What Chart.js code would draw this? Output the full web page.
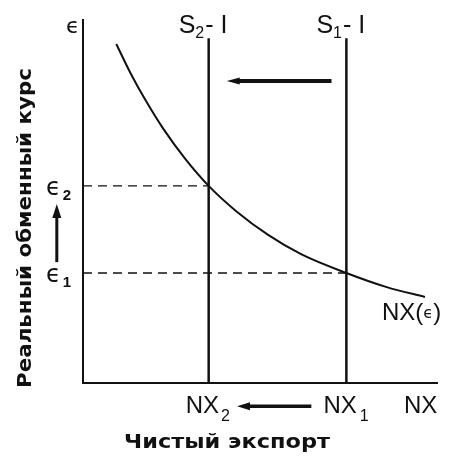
<!DOCTYPE html>
<html><head><meta charset="utf-8">
<script src="https://cdn.jsdelivr.net/npm/chart.js@4/dist/chart.umd.min.js"></script>
<style>html,body{margin:0;padding:0;background:#fff}#wrap{width:450px;height:459px;position:relative}</style>
</head><body><div id="wrap"><canvas id="c" width="450" height="459"></canvas></div>
<script>
// Net exports curve NX(ε)
const curveX = [0.94, 1.34, 1.76, 2.27, 2.90, 3.55, 4.32, 5.23, 6.16, 7.44, 8.58, 9.66];
const curveY = [9.34, 8.54, 7.80, 7.00, 6.16, 5.43, 4.74, 4.08, 3.55, 3.03, 2.64, 2.37];
// S - I vertical lines: [S2-I, S1-I]
const saveInvX = [3.55, 7.44];
const saveInvLabels = ["2", "1"];
const saveInvTop = 9.5;
// equilibrium exchange rates: [ε1, ε2]
const epsValues = [3.03, 5.43];
const epsLabels = ["1", "2"];
// shift arrows (tail, end of shaft)
const topArrowX = [7.02, 4.40];
const topArrowY = [8.32, 8.32];
const bottomArrowX = [6.45, 4.69];
const bottomArrowY = [-0.64, -0.64];
const leftArrowX = [-0.74, -0.74];
const leftArrowY = [3.33, 4.57];
// axis text
const xTitle = "Чистый экспорт";
const yTitle = "Реальный обменный курс";
const xLabels = ["NX", "NX", "NX"];

const INK = '#111';
const pts = (xs, ys) => xs.map((x, i) => ({x, y: ys[i]}));

const datasets = [
  {data: pts(curveX, curveY), showLine: true, borderColor: INK, borderWidth: 2, pointRadius: 0, cubicInterpolationMode: 'monotone'},
  {data: pts([saveInvX[0], saveInvX[0]], [0, saveInvTop]), showLine: true, borderColor: INK, borderWidth: 2.5, pointRadius: 0},
  {data: pts([saveInvX[1], saveInvX[1]], [0, saveInvTop]), showLine: true, borderColor: INK, borderWidth: 2.5, pointRadius: 0},
  {data: pts([0, saveInvX[0]], [epsValues[1], epsValues[1]]), showLine: true, borderColor: INK, borderWidth: 1.4, borderDash: [9, 6], pointRadius: 0},
  {data: pts([0, saveInvX[1]], [epsValues[0], epsValues[0]]), showLine: true, borderColor: INK, borderWidth: 1.4, borderDash: [9, 6], pointRadius: 0},
  {data: pts(topArrowX, topArrowY), showLine: true, borderColor: INK, borderWidth: 4, pointRadius: 0, clip: false, arrow: {L: 12, W: 3.5}},
  {data: pts(bottomArrowX, bottomArrowY), showLine: true, borderColor: INK, borderWidth: 3.5, pointRadius: 0, clip: false, arrow: {L: 12, W: 4}},
  {data: pts(leftArrowX, leftArrowY), showLine: true, borderColor: INK, borderWidth: 3, pointRadius: 0, clip: false, arrow: {L: 13, W: 4.5}}
];

const FONT = "'Liberation Sans', Arial, 'DejaVu Sans', sans-serif";
const EPS = "\u03F5";

function drawRun(ctx, parts, x, y) {
  let cx = x;
  for (const p of parts) {
    ctx.font = p.font;
    ctx.fillText(p.t, cx, y + (p.dy || 0));
    cx += ctx.measureText(p.t).width + (p.gap || 0);
  }
}

function fitText(ctx, text, cx, cy, angle, targetW) {
  ctx.save();
  ctx.translate(cx, cy);
  ctx.rotate(angle);
  const w = ctx.measureText(text).width;
  ctx.scale(targetW / w, 1);
  ctx.fillText(text, 0, 0);
  ctx.restore();
}

const textPlugin = {
  id: 'texts',
  afterDraw(chart) {
    const ctx = chart.ctx, xs = chart.scales.x, ys = chart.scales.y;
    ctx.save();
    ctx.fillStyle = INK;
    // arrowheads at the end of each arrow dataset
    chart.data.datasets.forEach((ds, i) => {
      if (!ds.arrow) return;
      const el = chart.getDatasetMeta(i).data;
      const a = el[0], b = el[el.length - 1];
      const dx = b.x - a.x, dy = b.y - a.y, len = Math.hypot(dx, dy);
      const ux = dx / len, uy = dy / len, nx = -uy, ny = ux;
      const {L, W} = ds.arrow;
      ctx.beginPath();
      ctx.moveTo(b.x + ux * L, b.y + uy * L);
      ctx.lineTo(b.x + nx * W - ux * 1, b.y + ny * W - uy * 1);
      ctx.lineTo(b.x - nx * W - ux * 1, b.y - ny * W - uy * 1);
      ctx.closePath();
      ctx.fill();
    });
    ctx.textAlign = 'left';
    ctx.textBaseline = 'alphabetic';
    const big = `25px ${FONT}`, mid = `24px ${FONT}`, small = `16px ${FONT}`;
    // epsilon at top of y axis
    drawRun(ctx, [{t: EPS, font: `22px 'DejaVu Sans', ${FONT}`}], xs.left - 17, ys.top + 13);
    // S-I labels
    saveInvX.forEach((v, i) => {
      const px = xs.getPixelForValue(v);
      drawRun(ctx, [{t: 'S', font: big}, {t: saveInvLabels[i], font: small, dy: 5, gap: 1}, {t: '- I', font: big}], px - 30, ys.top + 13);
    });
    // epsilon labels
    epsValues.forEach((v, i) => {
      const py = ys.getPixelForValue(v);
      drawRun(ctx, [{t: EPS, font: `24px 'DejaVu Sans', ${FONT}`, gap: 2}, {t: epsLabels[i], font: `bold 15px ${FONT}`, dy: 5}], 46, py + 9);
    });
    // x-axis labels
    const base = ys.bottom + 30;
    const p2 = xs.getPixelForValue(saveInvX[0]);
    const p1 = xs.getPixelForValue(saveInvX[1]);
    drawRun(ctx, [{t: xLabels[0], font: mid, gap: 2}, {t: '2', font: small, dy: 8}], p2 - 23, base);
    drawRun(ctx, [{t: xLabels[1], font: mid, gap: 3}, {t: '1', font: small, dy: 8}], p1 - 23, base);
    drawRun(ctx, [{t: xLabels[2], font: mid}], xs.right - 33, base);
    // curve label
    drawRun(ctx, [{t: 'NX(', font: mid}, {t: EPS, font: `16px 'DejaVu Sans', ${FONT}`, dy: -2}, {t: ')', font: mid}], 382, 320);
    // titles
    ctx.font = `bold 20px 'DejaVu Sans', ${FONT}`;
    ctx.textAlign = 'center';
    fitText(ctx, xTitle, 227, 448, 0, 206);
    fitText(ctx, yTitle, 31, 228, -Math.PI / 2, 320);
    ctx.restore();
  }
};

new Chart(document.getElementById('c'), {
  type: 'scatter',
  data: {datasets},
  options: {
    responsive: false,
    animation: false,
    layout: {padding: {left: 83, right: 13, top: 20, bottom: 76}},
    plugins: {legend: {display: false}, tooltip: {enabled: false}},
    scales: {
      x: {type: 'linear', min: 0, max: 10, grid: {display: false, drawTicks: false, tickLength: 0}, ticks: {display: false}, border: {display: true, color: INK, width: 2}},
      y: {type: 'linear', min: 0, max: 10, grid: {display: false, drawTicks: false, tickLength: 0}, ticks: {display: false}, border: {display: true, color: INK, width: 2}}
    }
  },
  plugins: [textPlugin]
});
</script>
</body></html>
